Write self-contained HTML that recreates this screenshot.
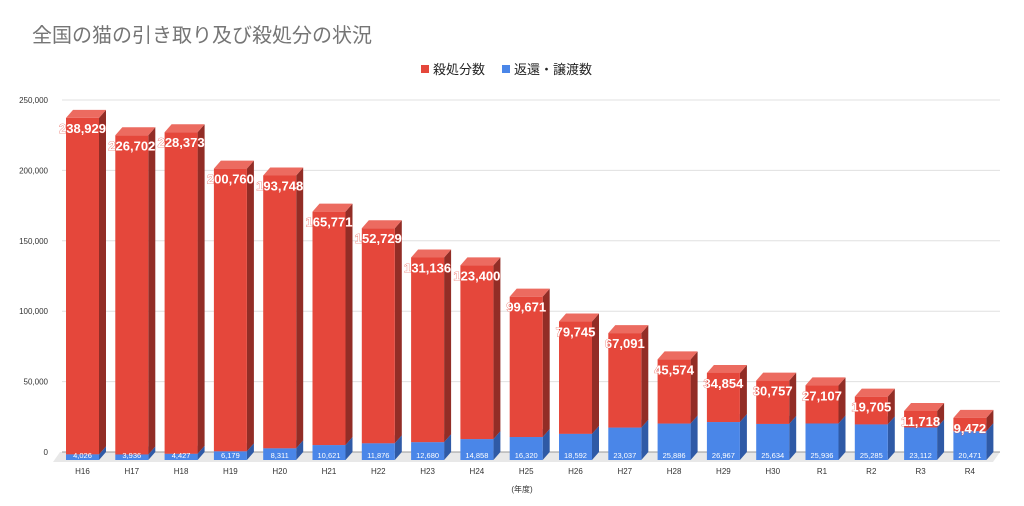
<!DOCTYPE html>
<html><head><meta charset="utf-8"><style>
html,body{margin:0;padding:0;background:#fff;width:1024px;height:506px;overflow:hidden}
text{font-family:"Liberation Sans","Noto Sans CJK JP",sans-serif}
</style></head><body>
<svg id="chart" width="1024" height="506" xmlns="http://www.w3.org/2000/svg">
<text x="32" y="42" font-size="20" fill="#757575">全国の猫の引き取り及び殺処分の状況</text>
<g>
<rect x="421" y="65" width="8" height="8" fill="#e5473b"/>
<text x="433" y="74" font-size="13" fill="#222">殺処分数</text>
<rect x="502" y="65" width="8" height="8" fill="#4a86e8"/>
<text x="514" y="74" font-size="13" fill="#222">返還・譲渡数</text>
</g>
<g id="grid"></g><g id="bars"></g>
<text x="522" y="492" font-size="8" fill="#333" text-anchor="middle">(年度)</text>
</svg>
<script>
const categories=["H16","H17","H18","H19","H20","H21","H22","H23","H24","H25","H26","H27","H28","H29","H30","R1","R2","R3","R4"];
const killed=[238929,226702,228373,200760,193748,165771,152729,131136,123400,99671,79745,67091,45574,34854,30757,27107,19705,11718,9472];
const returned=[4026,3936,4427,6179,8311,10621,11876,12680,14858,16320,18592,23037,25886,26967,25634,25936,25285,23112,20471];
const yTicks=[0,50000,100000,150000,200000,250000];
const NS="http://www.w3.org/2000/svg";
const grid=document.getElementById('grid'),bars=document.getElementById('bars');
const base=460,k=352/250000,dx=7,dy=8,bw=33;
const y=v=>base-v*k;
const x=i=>82.5+i*49.3;
function mk(tag,attrs,parent){const e=document.createElementNS(NS,tag);for(const a in attrs)e.setAttribute(a,attrs[a]);parent.appendChild(e);return e;}
const fmt=v=>v.toLocaleString('en-US');
const floor=mk('polygon',{points:`53,${base+2} 993,${base+2} 1000,${base-dy} 60,${base-dy}`,fill:'#e8e8e8'},grid);


yTicks.forEach(t=>{
 const l=mk('line',{x1:62,x2:1000,y1:y(t)-dy,y2:y(t)-dy,stroke:t===0?'#999':'#e0e0e0','stroke-width':1},grid);
 
 
 const tx=mk('text',{x:48,y:y(t)-dy+3,'font-size':8,fill:'#333','text-anchor':'end'},grid);
 tx.textContent=fmt(t);
 
 
});
function box(x0,yb,yt,cf,ct,cs,parent,name){
 const g=mk('g',{},parent);
 
 
 mk('polygon',{points:`${x0+bw},${yb} ${x0+bw+dx},${yb-dy} ${x0+bw+dx},${yt-dy} ${x0+bw},${yt}`,fill:cs},g);
 mk('polygon',{points:`${x0},${yt} ${x0+dx},${yt-dy} ${x0+bw+dx},${yt-dy} ${x0+bw},${yt}`,fill:ct},g);
 mk('rect',{x:x0,y:yt,width:bw,height:yb-yt,fill:cf},g);
}
categories.forEach((c,i)=>{
 const x0=x(i)-bw/2;
 const yb=y(0),ym=y(returned[i]),yt=y(returned[i]+killed[i]);
 box(x0,yb,ym,'#4a86e8','#6d9eeb','#2f5aa6',bars,'bar-returned-'+c);
 box(x0,ym,yt,'#e5473b','#ec6b60','#922d26',bars,'bar-killed-'+c);
 const lb=mk('text',{x:x(i),y:yb-2,'font-size':7.5,fill:'#fff','text-anchor':'middle'},bars);
 lb.textContent=fmt(returned[i]);
 
 
 const lr=mk('text',{x:x(i),y:yt+15,'font-size':13,'font-weight':'bold',fill:'#fff',stroke:'#e5473b','stroke-width':0.6,'paint-order':'stroke','text-anchor':'middle'},bars);
 lr.textContent=fmt(killed[i]);
 
 
 const xl=mk('text',{x:x(i),y:474,'font-size':8,fill:'#333','text-anchor':'middle'},bars);
 xl.textContent=c;
 
 
});
</script>
</body></html>
